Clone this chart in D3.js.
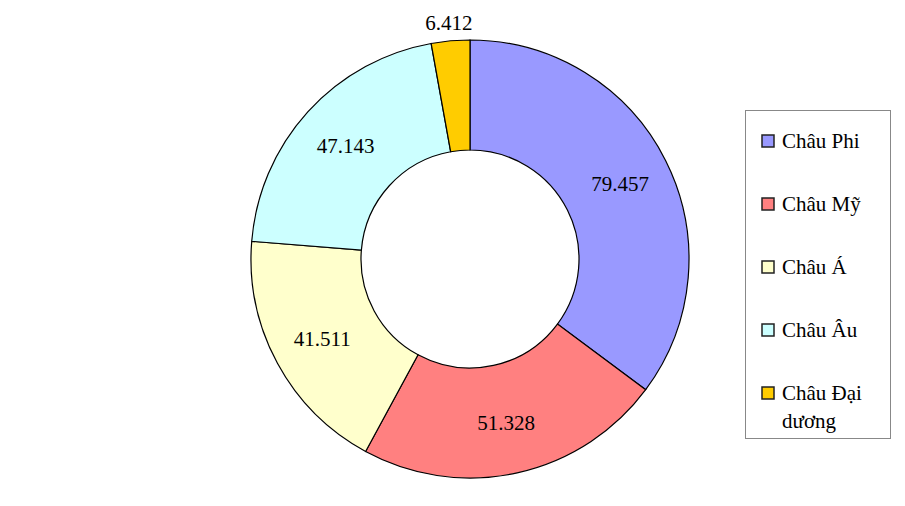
<!DOCTYPE html>
<html><head><meta charset="utf-8">
<script src="https://cdn.jsdelivr.net/npm/d3@7"></script>
<style>
body{margin:0;background:#fff;}
svg{display:block;}
svg text, svg tspan{font-family:"Liberation Serif", serif !important;}
</style>
</head><body>
<svg id="c" width="905" height="506"></svg>
<script>
const categories = ["Châu Phi", "Châu Mỹ", "Châu Á", "Châu Âu", "Châu Đại dương"];
const values = [79.457, 51.328, 41.511, 47.143, 6.412];
const labels = ["79.457", "51.328", "41.511", "47.143", "6.412"];
const colors = ["#9999FF", "#FF8080", "#FFFFCC", "#CCFFFF", "#FFCC00"];

const FONT = '"Liberation Serif", serif';
const svg = d3.select("#c");
const cx = 470, cy = 259, rOut = 219, rIn = 109;

const pie = d3.pie().sort(null).value(d => d)(values);
const arc = d3.arc().innerRadius(rIn).outerRadius(rOut);
const labelArc = d3.arc().innerRadius(168).outerRadius(168);
const outArc = d3.arc().innerRadius(rOut + 18).outerRadius(rOut + 18);

const g = svg.append("g").attr("transform", `translate(${cx},${cy})`);
g.selectAll("path").data(pie).enter().append("path")
  .attr("d", arc).attr("fill", (d, i) => colors[i])
  .attr("stroke", "#000").attr("stroke-width", 1.2);

g.selectAll("text").data(pie).enter().append("text")
  .attr("transform", (d, i) => {
    const small = (d.endAngle - d.startAngle) < 0.3;
    const p = small ? outArc.centroid(d) : labelArc.centroid(d);
    return `translate(${p[0]},${p[1]})`;
  })
  .attr("text-anchor", "middle").attr("dy", "0.35em")
  .style("font-family", FONT, "important")
  .attr("font-size", 21).attr("fill", "#000")
  .text((d, i) => labels[i]);

// legend
const lx = 745, ly = 110, lw = 145, lh = 328;
svg.append("rect").attr("x", lx + 0.5).attr("y", ly + 0.5).attr("width", lw).attr("height", lh)
  .attr("fill", "#fff").attr("stroke", "#888").attr("stroke-width", 1);
const step = 63;
const items = svg.selectAll("g.leg").data(categories).enter().append("g")
  .attr("transform", (d, i) => `translate(${lx + 17},${ly + 31 + i * step})`);
items.append("rect").attr("x", 0).attr("y", -6).attr("width", 12).attr("height", 12)
  .attr("fill", (d, i) => colors[i]).attr("stroke", "#222").attr("stroke-width", 1.5);
items.each(function(d) {
  const t = d3.select(this).append("text").attr("x", 20).attr("y", 0).attr("dy", "0.35em")
    .style("font-family", FONT, "important")
    .attr("font-size", 21).attr("fill", "#000");
  if (d === "Châu Đại dương") {
    t.append("tspan").attr("x", 20).text("Châu Đại");
    t.append("tspan").attr("x", 20).attr("dy", 28).text("dương");
  } else t.text(d);
});
</script>
</body></html>
